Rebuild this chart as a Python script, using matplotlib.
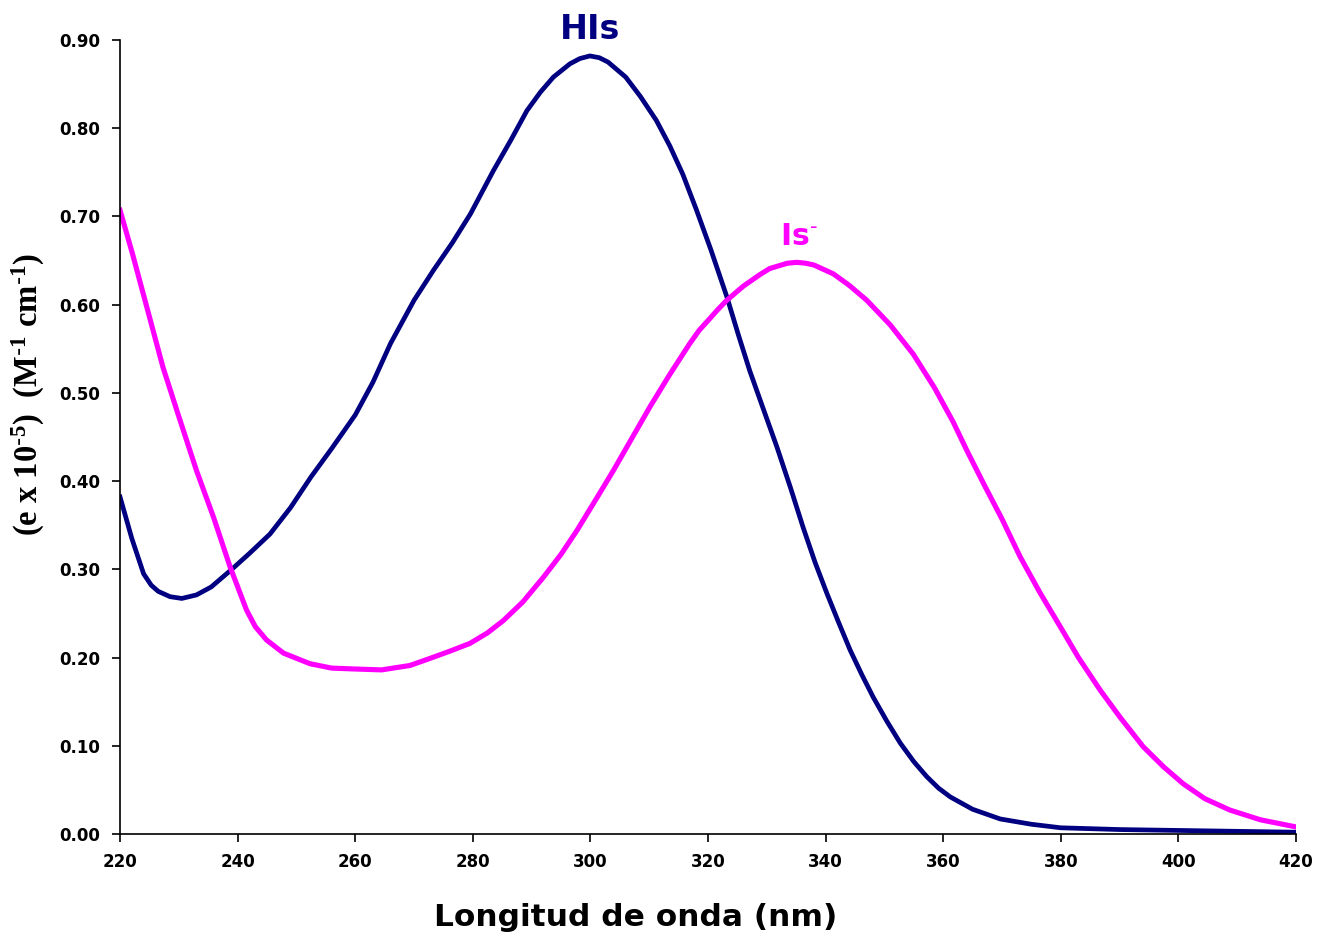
import matplotlib
matplotlib.use("Agg")
import matplotlib.pyplot as plt

# superscripts use the same font as the surrounding text
plt.rcParams['mathtext.default'] = 'regular'

# HIs curve (wavelength nm, e x 10-5)
his_nm = [220, 222, 224, 225.3, 226.5, 228.5, 230.5, 233, 235.5, 239, 242, 245.5,
          249, 252.5, 256, 260, 263, 266, 270, 273.3, 276.5, 279.6, 283.5,
          286.5, 289.2, 291.5, 293.7, 296.5, 298.2, 299.9, 301.5, 303, 306,
          308.5, 311.2, 313.5, 315.7, 318, 320.5, 323.2, 325.2, 327.1, 329.5,
          331.7, 334, 336.2, 338.2, 340.2, 342.2, 344.2, 346.2, 348.1, 350.4,
          352.7, 355, 357.2, 359.2, 361.2, 365, 369.7, 375, 380, 390, 400, 410,
          420]
his_val = [0.382, 0.335, 0.295, 0.282, 0.275, 0.269, 0.267, 0.271, 0.280, 0.300,
           0.318, 0.340, 0.370, 0.405, 0.437, 0.475, 0.512, 0.556, 0.605, 0.639,
           0.670, 0.703, 0.752, 0.787, 0.820, 0.841, 0.858, 0.873, 0.879, 0.882,
           0.880, 0.875, 0.858, 0.836, 0.809, 0.780, 0.748, 0.708, 0.662, 0.609,
           0.565, 0.525, 0.480, 0.439, 0.393, 0.347, 0.308, 0.273, 0.240, 0.208,
           0.180, 0.155, 0.128, 0.103, 0.082, 0.065, 0.052, 0.042, 0.028, 0.017,
           0.011, 0.007, 0.005, 0.004, 0.003, 0.002]

# Is- curve
is_nm = [220, 222.1, 224.4, 227.3, 230.2, 233, 235.9, 238.7, 241.5, 243, 244.9,
         247.8, 252.3, 256, 260, 264.5, 269.3, 272.7, 276, 279.5, 282.5, 285.2,
         288.5, 292, 295, 297.7, 301, 303.9, 307, 310.1, 313.5, 316.9, 318.5,
         320, 321.6, 323.2, 326, 328.8, 330.5, 333.5, 335.1, 336.6, 338, 341.3,
         344, 347, 351, 354.9, 358.5, 361.7, 364, 366.8, 370, 373.1, 376.5,
         379.9, 383, 386.7, 390, 394, 397.5, 400.8, 404.5, 408.8, 414, 420]
is_val = [0.707, 0.658, 0.601, 0.529, 0.469, 0.412, 0.359, 0.303, 0.254, 0.235,
          0.220, 0.205, 0.193, 0.188, 0.187, 0.186, 0.191, 0.199, 0.207, 0.216,
          0.228, 0.242, 0.263, 0.291, 0.317, 0.344, 0.380, 0.412, 0.448, 0.484,
          0.521, 0.556, 0.571, 0.582, 0.594, 0.605, 0.621, 0.634, 0.641, 0.647,
          0.648, 0.647, 0.645, 0.635, 0.622, 0.605, 0.577, 0.544, 0.506, 0.467,
          0.435, 0.398, 0.357, 0.314, 0.273, 0.235, 0.200, 0.163, 0.133, 0.099,
          0.076, 0.057, 0.040, 0.027, 0.016, 0.008]

x_ticks = [220, 240, 260, 280, 300, 320, 340, 360, 380, 400, 420]
y_ticks = [0.0, 0.1, 0.2, 0.3, 0.4, 0.5, 0.6, 0.7, 0.8, 0.9]

navy = '#000080'
magenta = '#FF00FF'

fig = plt.figure(figsize=(13.31, 9.40), dpi=100)
ax = fig.add_axes([0.0902, 0.1128, 0.8835, 0.8446])

ax.plot(his_nm, his_val, color=navy, linewidth=3.4, solid_joinstyle='round')
ax.plot(is_nm, is_val, color=magenta, linewidth=3.7, solid_joinstyle='round')

ax.set_xlim(220, 420)
ax.set_ylim(0, 0.9)
ax.set_xticks(x_ticks)
ax.set_yticks(y_ticks)
ax.set_xticklabels([str(t) for t in x_ticks])
ax.set_yticklabels(['%.2f' % t for t in y_ticks])

# only left and bottom axis lines, like the original
ax.spines['top'].set_visible(False)
ax.spines['right'].set_visible(False)
for side in ['left', 'bottom']:
    ax.spines[side].set_linewidth(1.2)
ax.tick_params(direction='out', length=6, width=1.2, pad=8, labelsize=12)
for lab in ax.get_xticklabels() + ax.get_yticklabels():
    lab.set_fontweight('bold')

# axis titles are placed on the figure, the original has them off-centre
fig.text(636 / 1331, 1 - 918 / 940, 'Longitud de onda (nm)', fontsize=22.5,
         fontweight='bold', ha='center', va='center')
fig.text(28 / 1331, 1 - 395 / 940,
         r'(e x 10$^{\text{-}5}$)  (M$^{\text{-}1}$ cm$^{\text{-}1}$)',
         fontsize=23.5, fontweight='bold', family='Liberation Serif',
         rotation=90, ha='center', va='center')

# curve names
ax.text(300, 0.912, 'HIs', color=navy, fontsize=24, fontweight='bold',
        ha='center', va='center', clip_on=False)
ax.text(335.5, 0.677, r'Is$^{\text{-}}$', color=magenta, fontsize=21.5,
        fontweight='bold', ha='center', va='center')

fig.savefig('out.png', dpi=100)
